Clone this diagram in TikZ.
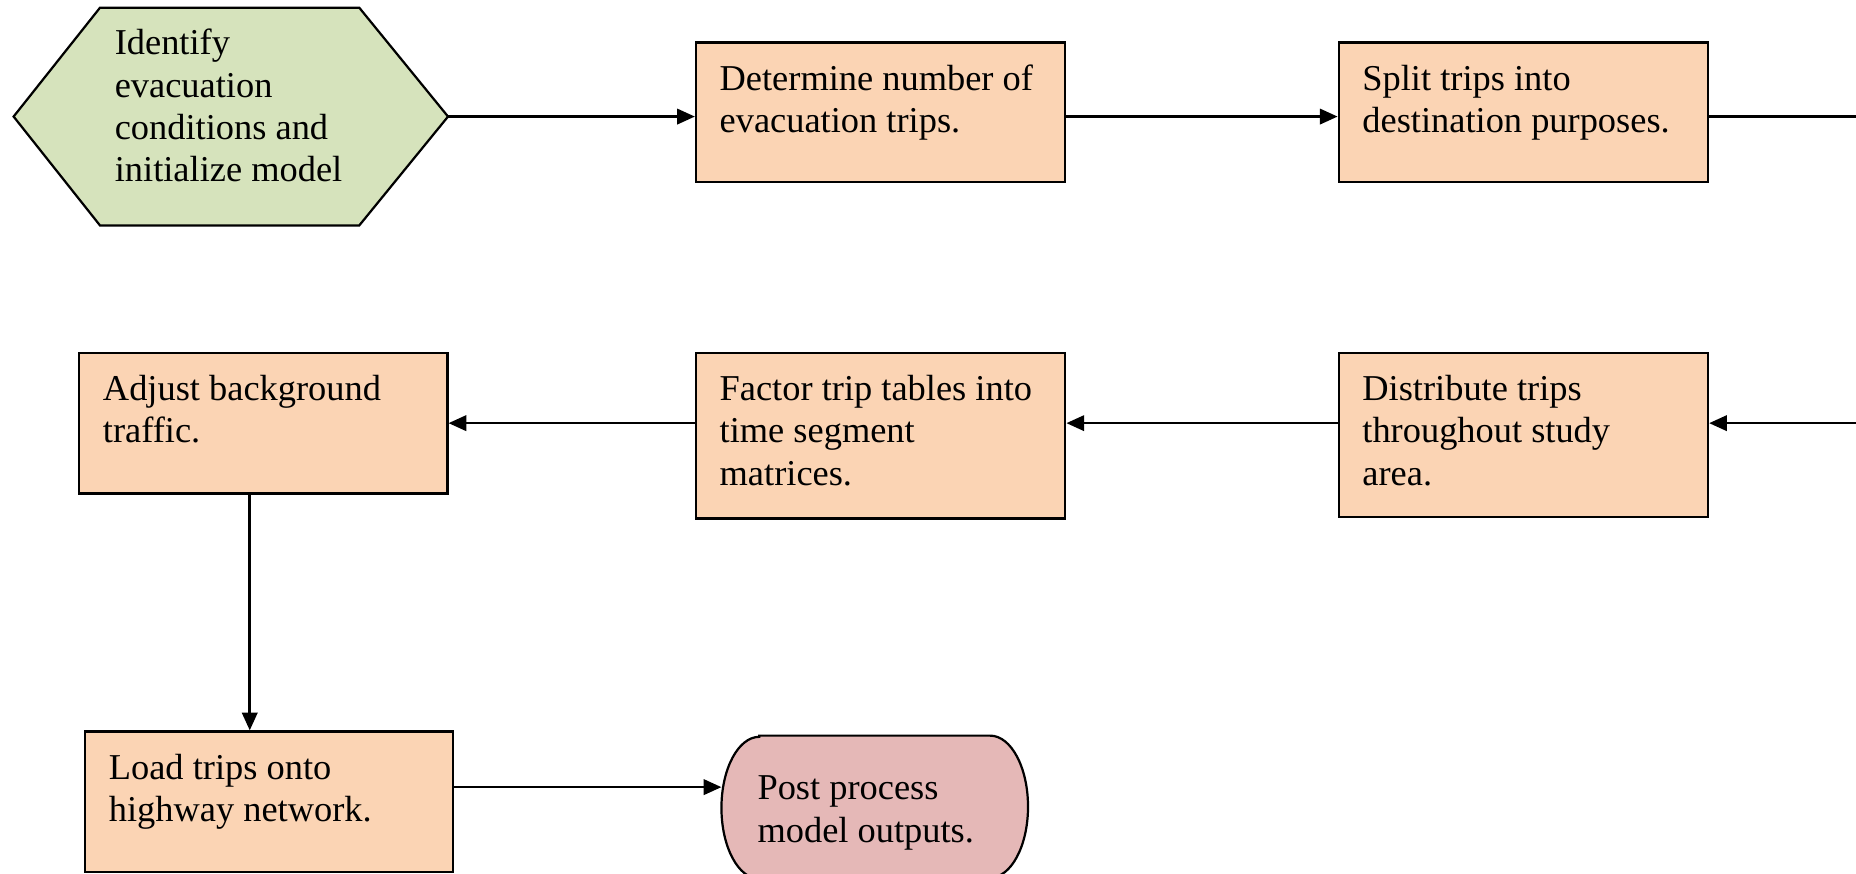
\documentclass[tikz,border=0pt]{standalone}
\usepackage{fontspec}
\setmainfont{Liberation Serif}
\usetikzlibrary{arrows.meta,backgrounds,calc}
\definecolor{peach}{HTML}{FBD4B4}
\definecolor{leaf}{HTML}{D6E3BC}
\definecolor{rose}{HTML}{E5B8B7}
\newlength{\px}
\setlength{\px}{0.4pt}
\newcommand{\btext}[3]{\parbox[c][#1\px][t]{#2\px}{\raggedright\strut #3}}
\tikzset{
  every node/.style={font=\fontsize{12.3pt}{14.3pt}\selectfont},
  flowbox/.style={draw=black, line width=0.75pt, fill=peach, inner sep=0pt},
  plain/.style={inner sep=0pt},
  shapeline/.style={draw=black, line width=0.75pt},
  arr/.style={line width=0.85pt, -{Triangle[length=6pt,width=5.2pt]}},
  ln/.style={line width=0.85pt}
}
\begin{document}
\begin{tikzpicture}[x=0.4pt,y=0.4pt]
\useasboundingbox (0,0) rectangle (1568,738);

% start hexagon (text node; outline drawn on background)
\node[plain, minimum width=366\px, minimum height=183\px] (hex) at (195,639.5)
  {\btext{154.4}{196}{Identify\\evacuation\\conditions and\\initialize model}};

% process boxes
\node[flowbox, minimum width=312\px, minimum height=118\px] (A) at (744,643)
  {\btext{87.4}{272}{Determine number of\\evacuation trips.}};
\node[flowbox, minimum width=312\px, minimum height=118\px] (B) at (1287,643)
  {\btext{87.4}{272}{Split trips into\\destination purposes.}};
\node[flowbox, minimum width=312\px, minimum height=139\px] (C) at (1287,370.5)
  {\btext{108.4}{272}{Distribute trips\\throughout study\\area.}};
\node[flowbox, minimum width=312\px, minimum height=140\px] (D) at (744,370)
  {\btext{109.4}{272}{Factor trip tables into\\time segment\\matrices.}};
\node[flowbox, minimum width=311\px, minimum height=119\px] (E) at (222.5,380.5)
  {\btext{88.4}{271}{Adjust background\\traffic.}};
\node[flowbox, minimum width=311\px, minimum height=119\px] (F) at (227.5,60.5)
  {\btext{88.4}{271}{Load trips onto\\highway network.}};

% end terminator (text node; outline drawn on background)
\node[plain, minimum width=258\px, minimum height=120\px] (G) at (739,56)
  {\btext{62.4}{198}{Post process\\model outputs.}};

\begin{scope}[on background layer]
  \path[shapeline, fill=leaf]
    (hex.west) -- ([xshift=73\px]hex.north west) -- ([xshift=-75\px]hex.north east)
    -- (hex.east) -- ([xshift=-75\px]hex.south east) -- ([xshift=73\px]hex.south west) -- cycle;
  \path[shapeline, fill=rose]
    ([xshift=32\px]G.north west) -- ([xshift=-32\px]G.north east)
    arc[start angle=90, end angle=-90, x radius=32\px, y radius=60\px]
    -- ([xshift=32\px]G.south west)
    arc[start angle=270, end angle=90, x radius=32\px, y radius=60\px] -- cycle;
\end{scope}

% free ends at the right margin and the drop line position
\coordinate (rout) at (1580,639.5);
\coordinate (rin) at (1580,380.5);
\coordinate (vx) at (211,0);

% connectors
\draw[arr] (hex.east) -- (hex.east -| A.west);
\draw[arr] (A.east |- hex.east) -- (B.west |- hex.east);
\draw[ln] (B.east |- hex.east) -- (rout);
\draw[arr] (rin) -- (C.east |- rin);
\draw[arr] (C.west |- E.east) -- (D.east |- E.east);
\draw[arr] (D.west |- E.east) -- (E.east);
\draw[arr] (E.south -| vx) -- (F.north -| vx);
\draw[arr] ([yshift=12.5\px]F.east) -- ([yshift=12.5\px]F.east -| G.west);
\end{tikzpicture}
\end{document}
